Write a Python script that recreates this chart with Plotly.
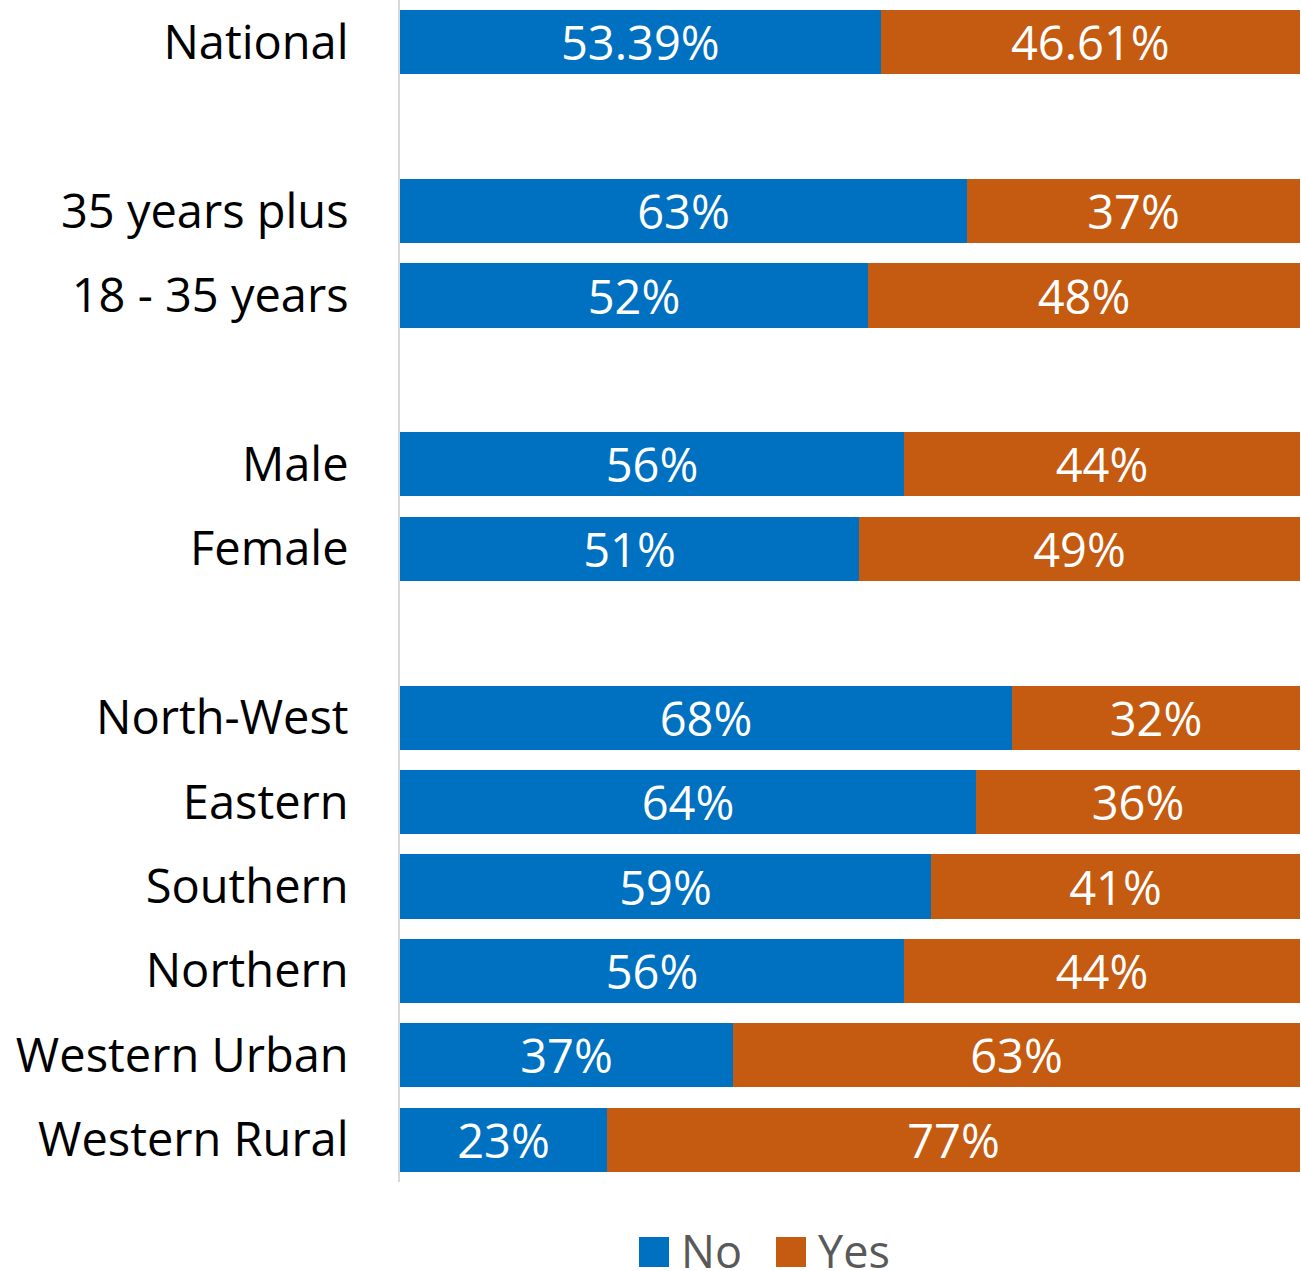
import plotly.graph_objects as go

# categories top to bottom; blank entries are spacer rows
categories = ["National", " ", "35 years plus", "18 - 35 years", "  ",
              "Male", "Female", "   ",
              "North-West", "Eastern", "Southern", "Northern",
              "Western Urban", "Western Rural"]
no_vals = [53.39, None, 63, 52, None, 56, 51, None, 68, 64, 59, 56, 37, 23]
yes_vals = [46.61, None, 37, 48, None, 44, 49, None, 32, 36, 41, 44, 63, 77]

series = [("No", no_vals, "#0070C0"), ("Yes", yes_vals, "#C55A11")]
FONT = "Open Sans"
FS = 47

fig = go.Figure()
for name, vals, color in series:
    fig.add_trace(go.Bar(
        y=categories,
        x=vals,
        name=name,
        orientation="h",
        marker=dict(color=color, line=dict(width=0)),
        text=[f"{v:g}%" if v is not None else "" for v in vals],
        textposition="inside",
        insidetextanchor="middle",
        textfont=dict(color="white", size=FS, family=FONT),
        constraintext="none",
        showlegend=False,
    ))

fig.update_layout(
    barmode="stack",
    bargap=0.24,
    width=1301,
    height=1271,
    margin=dict(l=400, r=1, t=0, b=89),
    plot_bgcolor="white",
    paper_bgcolor="white",
    font=dict(family=FONT, color="black"),
    showlegend=False,
)
fig.update_xaxes(range=[0, 100], visible=False, fixedrange=True)
fig.update_yaxes(
    categoryorder="array",
    categoryarray=categories,
    range=[len(categories) - 0.5, -0.5],
    showgrid=False,
    showline=True,
    linecolor="#D9D9D9",
    linewidth=2,
    ticks="",
    ticklabelstandoff=40,
    tickfont=dict(size=FS, family=FONT, color="black"),
)

# legend drawn by hand so the swatches can be large
legend_x = [639, 776]
for (name, vals, color), lx in zip(series, legend_x):
    fig.add_shape(type="rect", xref="paper", yref="paper",
                  x0=(lx - 400) / 900, x1=(lx + 30 - 400) / 900,
                  y0=-(1267 - 1182) / 1182, y1=-(1237 - 1182) / 1182,
                  fillcolor=color, line=dict(width=0))
    fig.add_annotation(text=name, xref="paper", yref="paper",
                       x=(lx + 40 - 400) / 900, y=-(1250 - 1182) / 1182,
                       xanchor="left", yanchor="middle", showarrow=False,
                       font=dict(size=45, family=FONT, color="#595959"))

fig.write_html("out.html", config={"displayModeBar": False},
               post_script="document.body.style.margin='0';")
